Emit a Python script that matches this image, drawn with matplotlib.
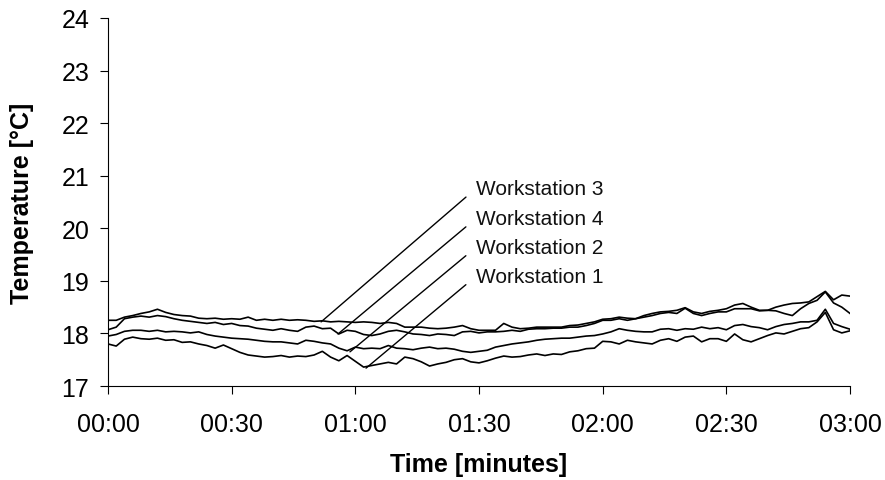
import numpy as np
import matplotlib
matplotlib.use("Agg")
import matplotlib.pyplot as plt

plt.rcParams['font.family'] = ['Liberation Sans', 'DejaVu Sans']

# time in minutes, one reading every 2 minutes
minutes = np.arange(0, 182, 2)

ws3 = [18.25, 18.25, 18.31, 18.34, 18.38, 18.41, 18.46, 18.40, 18.36, 18.34,
       18.33, 18.29, 18.28, 18.29, 18.27, 18.28, 18.27, 18.31, 18.25, 18.27,
       18.25, 18.27, 18.25, 18.26, 18.25, 18.23, 18.24, 18.22, 18.23, 18.22,
       18.21, 18.22, 18.21, 18.19, 18.21, 18.19, 18.12, 18.12, 18.12, 18.10,
       18.09, 18.10, 18.12, 18.15, 18.09, 18.06, 18.06, 18.06, 18.19, 18.12,
       18.09, 18.10, 18.12, 18.12, 18.12, 18.12, 18.15, 18.16, 18.19, 18.22,
       18.27, 18.28, 18.31, 18.29, 18.28, 18.34, 18.38, 18.41, 18.42, 18.44,
       18.49, 18.41, 18.38, 18.42, 18.44, 18.47, 18.54, 18.57, 18.50, 18.44,
       18.44, 18.50, 18.54, 18.57, 18.58, 18.60, 18.70, 18.80, 18.64, 18.73,
       18.71]

ws4 = [18.07, 18.12, 18.28, 18.31, 18.33, 18.31, 18.34, 18.32, 18.28, 18.25,
       18.23, 18.21, 18.19, 18.21, 18.17, 18.19, 18.15, 18.14, 18.10, 18.08,
       18.06, 18.09, 18.06, 18.04, 18.12, 18.14, 18.09, 18.10, 17.99, 18.06,
       18.04, 17.98, 17.96, 17.99, 18.04, 18.06, 18.03, 17.99, 17.98, 17.96,
       17.99, 17.98, 17.96, 18.03, 18.04, 18.01, 18.03, 18.03, 18.04, 18.06,
       18.04, 18.08, 18.09, 18.09, 18.10, 18.10, 18.12, 18.12, 18.15, 18.19,
       18.25, 18.25, 18.28, 18.25, 18.28, 18.31, 18.34, 18.38, 18.40, 18.38,
       18.48, 18.38, 18.34, 18.38, 18.41, 18.41, 18.47, 18.47, 18.47, 18.43,
       18.44, 18.43, 18.38, 18.34, 18.47, 18.57, 18.63, 18.79, 18.58, 18.50,
       18.38]

ws2 = [17.95, 17.98, 18.04, 18.06, 18.06, 18.04, 18.06, 18.03, 18.04, 18.03,
       18.01, 18.03, 17.98, 17.95, 17.93, 17.91, 17.90, 17.89, 17.87, 17.85,
       17.84, 17.84, 17.82, 17.80, 17.87, 17.85, 17.82, 17.80, 17.72, 17.67,
       17.74, 17.71, 17.72, 17.71, 17.77, 17.72, 17.71, 17.69, 17.72, 17.74,
       17.71, 17.72, 17.70, 17.66, 17.64, 17.66, 17.68, 17.74, 17.77, 17.80,
       17.82, 17.84, 17.87, 17.89, 17.90, 17.91, 17.91, 17.93, 17.95, 17.96,
       17.99, 18.03, 18.09, 18.06, 18.04, 18.03, 18.03, 18.08, 18.09, 18.06,
       18.09, 18.08, 18.12, 18.09, 18.11, 18.07, 18.15, 18.17, 18.13, 18.11,
       18.07, 18.13, 18.17, 18.19, 18.22, 18.22, 18.25, 18.46, 18.19, 18.13,
       18.08]

ws1 = [17.80, 17.76, 17.89, 17.93, 17.90, 17.89, 17.91, 17.87, 17.88, 17.83,
       17.84, 17.80, 17.77, 17.72, 17.78, 17.71, 17.64, 17.59, 17.57, 17.55,
       17.56, 17.58, 17.55, 17.57, 17.56, 17.59, 17.66, 17.55, 17.48, 17.58,
       17.47, 17.36, 17.39, 17.42, 17.45, 17.42, 17.55, 17.52, 17.46, 17.38,
       17.42, 17.45, 17.50, 17.52, 17.46, 17.44, 17.48, 17.53, 17.57, 17.55,
       17.56, 17.59, 17.61, 17.58, 17.61, 17.60, 17.65, 17.67, 17.71, 17.72,
       17.85, 17.84, 17.80, 17.87, 17.84, 17.82, 17.80, 17.87, 17.90, 17.85,
       17.93, 17.95, 17.84, 17.90, 17.90, 17.85, 17.99, 17.88, 17.84, 17.90,
       17.96, 18.01, 17.99, 18.04, 18.09, 18.11, 18.22, 18.40, 18.07, 18.01,
       18.05]

series = [ws3, ws4, ws2, ws1]
labels = ["Workstation 3", "Workstation 4", "Workstation 2", "Workstation 1"]
# where each leader line touches its curve (minutes, degC) and the label height
label_tips = [(51.7, 18.22), (55.8, 17.99), (58.7, 17.65), (62.6, 17.34)]
label_heights = [20.76, 20.19, 19.64, 19.09]
label_x = 89.3

xticks = [0, 30, 60, 90, 120, 150, 180]
xtick_labels = ["00:00", "00:30", "01:00", "01:30", "02:00", "02:30", "03:00"]
yticks = [17, 18, 19, 20, 21, 22, 23, 24]

fig = plt.figure(figsize=(8.85, 4.81), dpi=100)
ax = fig.add_axes([0.122, 0.1954, 0.8385, 0.7651])

for s in series:
    ax.plot(minutes, s, color='black', linewidth=1.2)

for lab, tip, h in zip(labels, label_tips, label_heights):
    ax.annotate(lab, xy=tip, xytext=(label_x, h), fontsize=15,
                ha='left', va='center', color='#111111',
                arrowprops=dict(arrowstyle='-', color='black', lw=1.0,
                                relpos=(0, 0.5), shrinkA=7, shrinkB=0))

ax.set_xlim(0, 180)
ax.set_ylim(17, 24)
ax.set_xticks(xticks)
ax.set_xticklabels(xtick_labels)
ax.set_yticks(yticks)

ax.spines['top'].set_visible(False)
ax.spines['right'].set_visible(False)
ax.spines['left'].set_linewidth(0.8)
ax.spines['bottom'].set_linewidth(0.8)
ax.tick_params(axis='both', labelsize=18, width=0.8, length=5.5, direction='out')
ax.tick_params(axis='x', pad=13)
ax.tick_params(axis='y', pad=8)

ax.set_xlabel("Time [minutes]", fontsize=18, fontweight='bold', labelpad=12)
ax.set_ylabel("Temperature [°C]", fontsize=18, fontweight='bold', labelpad=20)

fig.savefig("out.png", dpi=100)
